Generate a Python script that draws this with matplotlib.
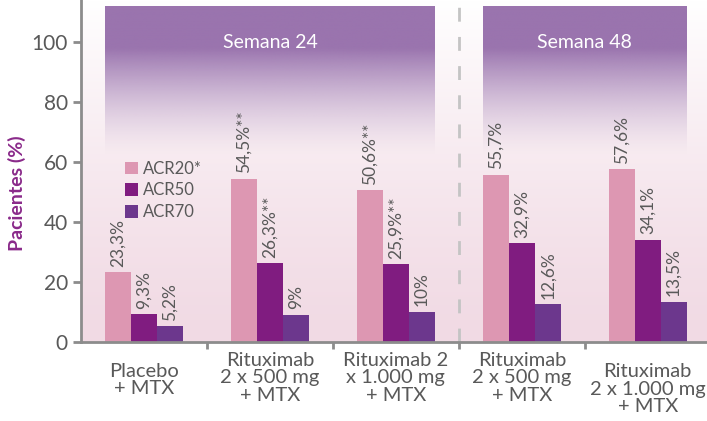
import matplotlib
matplotlib.use("Agg")
import matplotlib.pyplot as plt
import numpy as np
from matplotlib.colors import to_rgb

plt.rcParams['font.family'] = ['Lato', 'DejaVu Sans']

# data
groups = ["Placebo\n+ MTX",
          "Rituximab\n2 x 500 mg\n+ MTX",
          "Rituximab 2\nx 1.000 mg\n+ MTX",
          "Rituximab\n2 x 500 mg\n+ MTX",
          "Rituximab\n2 x 1.000 mg\n+ MTX"]
series = ["ACR20*", "ACR50", "ACR70"]
acr20 = [23.3, 54.5, 50.6, 55.7, 57.6]
acr50 = [9.3, 26.3, 25.9, 32.9, 34.1]
acr70 = [5.2, 9.0, 10.0, 12.6, 13.5]
lab20 = ["23,3%", "54,5%**", "50,6%**", "55,7%", "57,6%"]
lab50 = ["9,3%", "26,3%**", "25,9%**", "32,9%", "34,1%"]
lab70 = ["5,2%", "9%", "10%", "12,6%", "13,5%"]
periods = ["Semana 24", "Semana 48"]

colors = ["#dd97b2", "#801c80", "#6c378d"]
gray = "#595959"
axis_gray = "#8c8c8c"
head = "#9a74ae"

fig = plt.figure(figsize=(7.07, 4.21), dpi=100)
ax = fig.add_axes([81/707, 79/421, 1 - 81/707, 342/421])
ax.set_xlim(-0.5, 4.47)
ax.set_ylim(0, 114)

# pink background fading upward
bg = np.linspace(0, 1, 256)[:, None]
c0 = np.array(to_rgb("#f1dae4"))
c1 = np.array([1.0, 1.0, 1.0])
bgimg = c0 + (c1 - c0) * bg[..., None] ** 1.3
ax.imshow(bgimg, extent=(-0.5, 4.47, 0, 114), origin='lower', aspect='auto', zorder=0)

w = 0.206
x = np.arange(len(groups))

# header boxes with purple fade
hx = [(-1.5 * w, 2 + 1.5 * w), (3 - 1.5 * w, 4 + 1.5 * w)]
hc = np.array(to_rgb(head))
t = np.linspace(0, 1, 256)
alpha = np.clip(t / 0.72, 0, 1) ** 1.4
himg = np.zeros((256, 1, 4))
himg[:, 0, :3] = hc
himg[:, 0, 3] = alpha
for (a, b), name in zip(hx, periods):
    ax.imshow(himg, extent=(a, b, 62, 111.7), origin='lower', aspect='auto', zorder=1)
    ax.text((a + b) / 2, 100, name, color='white', fontsize=14,
            ha='center', va='center', zorder=3)

ax.axvline(2.5, color="#c4c4c4", lw=2, ls=(0, (5, 5.5)), zorder=1)

for k, (vals, labs) in enumerate([(acr20, lab20), (acr50, lab50), (acr70, lab70)]):
    xs = x + (k - 1) * w
    ax.bar(xs, vals, width=w, color=colors[k], zorder=2, label=series[k])
    for xi, v, s in zip(xs, vals, labs):
        ax.annotate(s, (xi, v), xytext=(0, 4), textcoords='offset points',
                    rotation=90, ha='center', va='bottom', fontsize=12.5, color=gray, zorder=3)

ax.legend(loc='upper left', bbox_to_anchor=(0.06, 0.55), frameon=False, fontsize=12,
          handlelength=0.75, handleheight=0.75, handletextpad=0.3, labelspacing=0.35,
          labelcolor=gray, borderaxespad=0)

for s in ['top', 'right']:
    ax.spines[s].set_visible(False)
for s in ['left', 'bottom']:
    ax.spines[s].set_color(axis_gray)
    ax.spines[s].set_linewidth(2)
    ax.spines[s].set_zorder(4)

ax.set_yticks([0, 20, 40, 60, 80, 100])
ax.tick_params(axis='y', colors=axis_gray, length=6, width=2, labelsize=15, labelcolor=gray)
ax.set_xticks([0.5, 1.5, 2.5, 3.5])
ax.set_xticklabels([])
ax.tick_params(axis='x', colors=axis_gray, length=5, width=2)

offs = [38, 36, 36, 36, 47]
for xi, g, o in zip(x, groups, offs):
    ax.annotate(g, (xi, 0), xycoords=('data', 'axes fraction'), xytext=(0, -o * 0.72),
                textcoords='offset points', ha='center', va='center', fontsize=14.5,
                color=gray, linespacing=1.05, annotation_clip=False)

fig.text(17/707, 1 - 193/421, "Pacientes (%)", rotation=90, ha='center', va='center',
         fontsize=14, color="#8a2a8a", fontweight='bold')

fig.savefig("out.png", dpi=100)
